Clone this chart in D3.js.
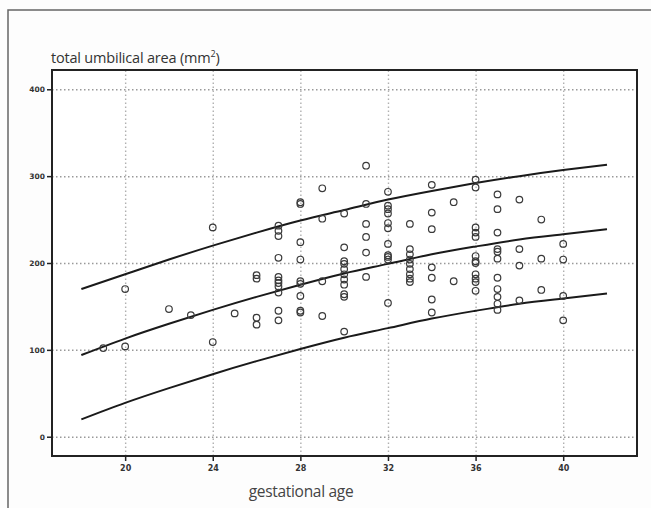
<!DOCTYPE html>
<html>
<head>
<meta charset="utf-8">
<script src="https://cdn.jsdelivr.net/npm/d3@7"></script>
<style>
  body { margin: 0; background: #fdfdfd; }
  svg { display: block; }
  .tick text { font-family: "DejaVu Sans", sans-serif; font-weight: bold; }
</style>
</head>
<body>
<svg width="651" height="508"></svg>
<script>
// fitted centile curves (read at 2-week steps)
var weeks = [18, 20, 22, 24, 26, 28, 30, 32, 34, 36, 38, 40, 42];
var upper = [170, 187, 204, 220, 235, 249, 261, 273, 283, 292, 300, 307, 313];
var middle = [94, 113, 130, 146, 161, 175, 188, 199, 210, 219, 227, 233, 239];
var lower = [20, 39, 56, 72, 87, 101, 114, 125, 136, 145, 153, 159, 165];

// measurements: gestational week and area
var ageX = [19, 20, 20, 22, 23, 24, 24, 25,
    26, 26, 26, 26,
    27, 27, 27, 27, 27, 27, 27, 27, 27, 27, 27,
    28, 28, 28, 28, 28, 28, 28, 28, 28,
    29, 29, 29, 29,
    30, 30, 30, 30, 30, 30, 30, 30, 30, 30, 30,
    31, 31, 31, 31, 31, 31,
    32, 32, 32, 32, 32, 32, 32, 32, 32, 32, 32,
    33, 33, 33, 33, 33, 33, 33, 33, 33,
    34, 34, 34, 34, 34, 34, 34,
    35, 35,
    36, 36, 36, 36, 36, 36, 36, 36, 36, 36, 36, 36,
    37, 37, 37, 37, 37, 37, 37, 37, 37, 37, 37,
    38, 38, 38, 38,
    39, 39, 39,
    40, 40, 40, 40];
var areaY = [102, 170, 104, 147, 140, 241, 109, 142,
    186, 182, 137, 129,
    243, 237, 231, 206, 184, 180, 177, 173, 166, 145, 134,
    270, 268, 224, 204, 179, 176, 162, 143, 145,
    286, 251, 179, 139,
    257, 218, 202, 199, 193, 187, 181, 175, 164, 161, 121,
    312, 268, 245, 230, 212, 184,
    282, 266, 262, 257, 246, 240, 222, 209, 207, 204, 154,
    245, 216, 210, 204, 199, 193, 187, 182, 178,
    290, 258, 239, 195, 183, 158, 143,
    270, 179,
    296, 287, 241, 235, 230, 208, 202, 200, 187, 182, 178, 168,
    279, 262, 235, 216, 213, 205, 183, 170, 161, 153, 146,
    273, 216, 197, 157,
    250, 205, 169,
    222, 204, 162, 134];

var xTicks = [20, 24, 28, 32, 36, 40];
var yTicks = [0, 100, 200, 300, 400];

var svg = d3.select("svg");

// outer frame (only top and left visible)
svg.append("path")
    .attr("d", "M8,508V10H651")
    .attr("fill", "none")
    .attr("stroke", "#666")
    .attr("stroke-width", 1.5);

var pLeft = 52, pTop = 70, pRight = 637, pBottom = 456;

var x = d3.scaleLinear().domain([16.66, 43.37]).range([pLeft, pRight]);
var y = d3.scaleLinear().domain([-22.2, 422.2]).range([pBottom, pTop]);

svg.append("rect")
    .attr("x", pLeft).attr("y", pTop)
    .attr("width", pRight - pLeft).attr("height", pBottom - pTop)
    .attr("fill", "#fff");

// dotted grid
svg.append("g")
    .attr("transform", "translate(" + pLeft + ",0)")
    .call(d3.axisLeft(y).tickValues(yTicks).tickSize(-(pRight - pLeft)).tickFormat(""))
    .call(function (g) {
        g.select(".domain").remove();
        g.selectAll("line").attr("stroke", "#999").attr("stroke-width", 1.5).attr("stroke-dasharray", "1.5,2.5");
    });

svg.append("g")
    .attr("transform", "translate(0," + pBottom + ")")
    .call(d3.axisBottom(x).tickValues(xTicks).tickSize(-(pBottom - pTop)).tickFormat(""))
    .call(function (g) {
        g.select(".domain").remove();
        g.selectAll("line").attr("stroke", "#b0b0b0").attr("stroke-width", 1.4).attr("stroke-dasharray", "1.5,2.5");
    });

// curves
var line = d3.line()
    .x(function (d) { return x(d[0]); })
    .y(function (d) { return y(d[1]); })
    .curve(d3.curveNatural);

[upper, middle, lower].forEach(function (s) {
    svg.append("path")
        .datum(weeks.map(function (w, i) { return [w, s[i]]; }))
        .attr("d", line)
        .attr("fill", "none")
        .attr("stroke", "#1a1a1a")
        .attr("stroke-width", 2);
});

// points
svg.append("g")
    .selectAll("circle")
    .data(ageX)
    .enter().append("circle")
    .attr("cx", function (d) { return x(d); })
    .attr("cy", function (d, i) { return y(areaY[i]); })
    .attr("r", 3.3)
    .attr("fill", "none")
    .attr("stroke", "#3a3a3a")
    .attr("stroke-width", 1.2);

// frame
svg.append("rect")
    .attr("x", pLeft).attr("y", pTop)
    .attr("width", pRight - pLeft).attr("height", pBottom - pTop)
    .attr("fill", "none")
    .attr("stroke", "#222")
    .attr("stroke-width", 2);

// axes
svg.append("g")
    .attr("transform", "translate(" + pLeft + ",0)")
    .call(d3.axisLeft(y).tickValues(yTicks).tickSize(5).tickPadding(2))
    .call(function (g) {
        g.select(".domain").remove();
        g.selectAll("line").attr("stroke", "#222").attr("stroke-width", 1.5);
        g.selectAll("text").attr("font-size", 7.5).attr("fill", "#333");
    });

svg.append("g")
    .attr("transform", "translate(0," + pBottom + ")")
    .call(d3.axisBottom(x).tickValues(xTicks).tickSize(5).tickPadding(4))
    .call(function (g) {
        g.select(".domain").remove();
        g.selectAll("line").attr("stroke", "#222").attr("stroke-width", 1.5);
        g.selectAll("text").attr("font-size", 8).attr("fill", "#333");
    });

// titles
var title = svg.append("text")
    .attr("x", 51).attr("y", 63)
    .style("font-family", "'Open Sans', sans-serif")
    .style("font-size", "14.5px")
    .style("letter-spacing", "-0.2px")
    .attr("fill", "#333");
title.append("tspan").text("total umbilical area (mm");
title.append("tspan").attr("font-size", "9px").attr("dy", -6).text("2");
title.append("tspan").attr("dy", 6).text(")");

svg.append("text")
    .attr("x", 301).attr("y", 497)
    .attr("text-anchor", "middle")
    .style("font-family", "'Open Sans', sans-serif")
    .style("font-size", "15.5px")
    .style("letter-spacing", "-0.3px")
    .attr("fill", "#444")
    .text("gestational age");
</script>
</body>
</html>
